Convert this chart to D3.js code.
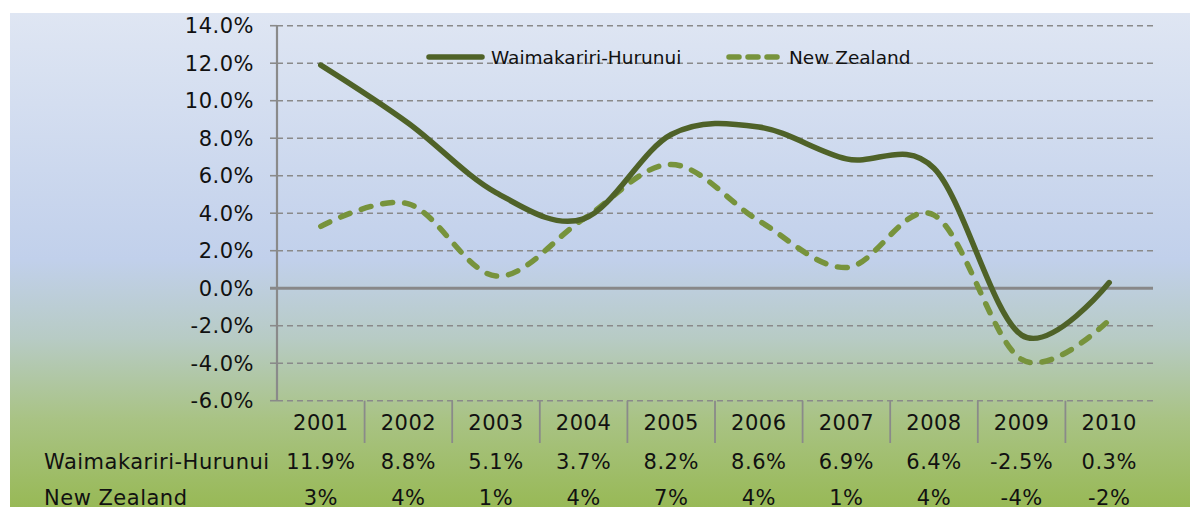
<!DOCTYPE html>
<html>
<head>
<meta charset="utf-8">
<script src="https://cdnjs.cloudflare.com/ajax/libs/d3/7.8.5/d3.min.js"></script>
<style>
  body { margin: 0; background: #fff; }
  svg text { font-family: "DejaVu Sans", Verdana, sans-serif; fill: #111; }
</style>
</head>
<body>
<svg id="chart" width="1190" height="507"></svg>
<script>
var years = ["2001","2002","2003","2004","2005","2006","2007","2008","2009","2010"];
var waimakValues = [11.9, 8.8, 5.1, 3.7, 8.2, 8.6, 6.9, 6.4, -2.5, 0.3];
var nzValues = [3.3, 4.5, 0.65, 3.7, 6.6, 3.6, 1.1, 3.9, -3.8, -1.7];
var nzLabels = ["3%","4%","1%","4%","7%","4%","1%","4%","-4%","-2%"];
var yTicks = [-6, -4, -2, 0, 2, 4, 6, 8, 10, 12, 14];
var seriesNames = ["Waimakariri-Hurunui", "New Zealand"];

var svg = d3.select("#chart");
var plotLeft = 277, plotRight = 1153, plotTop = 25.7, plotBottom = 400.7;

// background gradient
var defs = svg.append("defs");
var grad = defs.append("linearGradient").attr("id", "bg")
    .attr("x1", 0).attr("y1", 0).attr("x2", 0).attr("y2", 1);
grad.append("stop").attr("offset", "0%").attr("stop-color", "#dfe6f3");
grad.append("stop").attr("offset", "50%").attr("stop-color", "#c1d0eb");
grad.append("stop").attr("offset", "66%").attr("stop-color", "#b7cbc4");
grad.append("stop").attr("offset", "82%").attr("stop-color", "#a9c385");
grad.append("stop").attr("offset", "100%").attr("stop-color", "#98b956");

svg.append("rect").attr("x", 10).attr("y", 13).attr("width", 1180).attr("height", 494)
    .attr("fill", "url(#bg)");

var x = d3.scaleBand().domain(years).range([plotLeft, plotRight]);
var y = d3.scaleLinear().domain([-6, 14]).range([plotBottom, plotTop]);
var cx = function(d, i) { return x(years[i]) + x.bandwidth() / 2; };

// gridlines
svg.append("g").selectAll("line")
    .data(yTicks.filter(function(t) { return t !== 0; }))
    .enter().append("line")
    .attr("x1", plotLeft).attr("x2", plotRight)
    .attr("y1", function(d) { return y(d); }).attr("y2", function(d) { return y(d); })
    .attr("stroke", "#8a8a8a").attr("stroke-width", 1.6)
    .attr("stroke-dasharray", "6,4");

// tick marks
svg.append("g").selectAll("line")
    .data(yTicks).enter().append("line")
    .attr("x1", plotLeft - 7).attr("x2", plotLeft)
    .attr("y1", function(d) { return y(d); }).attr("y2", function(d) { return y(d); })
    .attr("stroke", "#8a8a8a").attr("stroke-width", 1.6);

// y labels
svg.append("g").selectAll("text")
    .data(yTicks).enter().append("text")
    .attr("x", 254).attr("y", function(d) { return y(d); })
    .attr("dy", "0.36em").attr("text-anchor", "end")
    .style("font-size", "21px").style("letter-spacing", "0.5px")
    .text(function(d) { return d.toFixed(1) + "%"; });

// y axis line
svg.append("line").attr("x1", plotLeft).attr("x2", plotLeft).attr("y1", plotTop).attr("y2", plotBottom)
    .attr("stroke", "#8a8a8a").attr("stroke-width", 2.2);

// category separators
svg.append("g").selectAll("line")
    .data(years.slice(1)).enter().append("line")
    .attr("x1", function(d) { return x(d); }).attr("x2", function(d) { return x(d); })
    .attr("y1", plotBottom).attr("y2", 443)
    .attr("stroke", "#8a8a8a").attr("stroke-width", 1.8);

// category labels
svg.append("g").selectAll("text")
    .data(years).enter().append("text")
    .attr("x", function(d) { return x(d) + x.bandwidth() / 2; })
    .attr("y", 422).attr("dy", "0.36em").attr("text-anchor", "middle")
    .style("font-size", "21px").style("letter-spacing", "0.5px")
    .text(function(d) { return d; });

// data table
svg.append("text").attr("x", 44).attr("y", 461).attr("dy", "0.36em")
    .style("font-size", "21px").style("letter-spacing", "0.5px").text(seriesNames[0]);
svg.append("text").attr("x", 44).attr("y", 497).attr("dy", "0.36em")
    .style("font-size", "21px").style("letter-spacing", "0.5px").text(seriesNames[1]);

svg.append("g").selectAll("text")
    .data(waimakValues).enter().append("text")
    .attr("x", cx).attr("y", 461).attr("dy", "0.36em").attr("text-anchor", "middle")
    .style("font-size", "21px").style("letter-spacing", "0.5px")
    .text(function(d) { return d.toFixed(1) + "%"; });
svg.append("g").selectAll("text")
    .data(nzLabels).enter().append("text")
    .attr("x", cx).attr("y", 497).attr("dy", "0.36em").attr("text-anchor", "middle")
    .style("font-size", "21px").style("letter-spacing", "0.5px")
    .text(function(d) { return d; });

// zero line
svg.append("line").attr("x1", plotLeft - 7).attr("x2", plotRight).attr("y1", y(0)).attr("y2", y(0))
    .attr("stroke", "#888888").attr("stroke-width", 3);

// lines
var line = d3.line()
    .x(cx)
    .y(function(d) { return y(d); })
    .curve(d3.curveCardinal.tension(0));

svg.append("path").datum(nzValues)
    .attr("d", line).attr("fill", "none")
    .attr("stroke", "#77933c").attr("stroke-width", 5.5)
    .attr("stroke-linecap", "round")
    .attr("stroke-dasharray", "10,12");

svg.append("path").datum(waimakValues)
    .attr("d", line).attr("fill", "none")
    .attr("stroke", "#4f6228").attr("stroke-width", 5.5)
    .attr("stroke-linecap", "round");

// legend
var legend = svg.append("g");
legend.append("line").attr("x1", 429).attr("x2", 482).attr("y1", 57).attr("y2", 57)
    .attr("stroke", "#4f6228").attr("stroke-width", 5.5).attr("stroke-linecap", "round");
legend.append("text").attr("x", 491).attr("y", 57).attr("dy", "0.36em")
    .style("font-size", "18.5px").text(seriesNames[0]);
legend.append("line").attr("x1", 729).attr("x2", 778).attr("y1", 57).attr("y2", 57)
    .attr("stroke", "#77933c").attr("stroke-width", 5.5).attr("stroke-linecap", "round")
    .attr("stroke-dasharray", "10,9");
legend.append("text").attr("x", 789).attr("y", 57).attr("dy", "0.36em")
    .style("font-size", "18.5px").text(seriesNames[1]);
</script>
</body>
</html>
